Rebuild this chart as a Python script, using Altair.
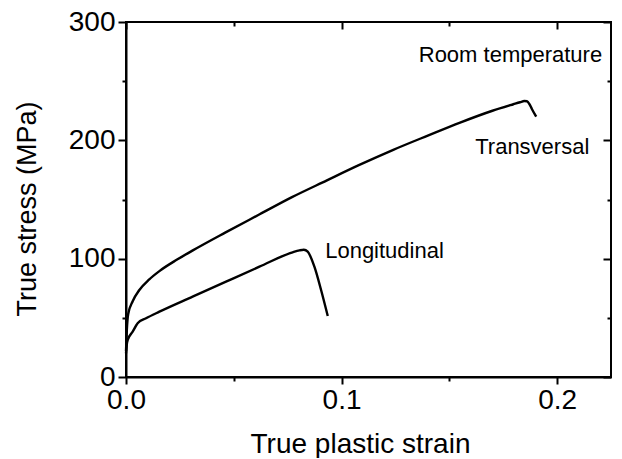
import altair as alt
import pandas as pd

# Transversal curve (true plastic strain, true stress MPa)
trans_strain = [0.0, 0.0004, 0.0010, 0.0031, 0.0062, 0.0108, 0.0155, 0.0235, 0.031, 0.046,
                0.062, 0.077, 0.093, 0.108, 0.124, 0.14, 0.155, 0.17, 0.1797, 0.1828,
                0.1848, 0.186, 0.1872, 0.1883, 0.1903]
trans_stress = [22, 40, 53, 64, 73.5, 82.5, 89.5, 99, 107, 122,
                137.5, 152, 166, 179, 192, 204, 215, 225, 230.5, 232.2,
                233.2, 233.0, 230.5, 226.5, 220]

# Longitudinal curve
long_strain = [0.0, 0.0004, 0.0008, 0.0031, 0.0054, 0.0093, 0.0155, 0.0309, 0.0464, 0.0619,
               0.0773, 0.0805, 0.0825, 0.0843, 0.0874, 0.0905, 0.0936]
long_stress = [20, 28, 31.3, 38.3, 45.4, 49.6, 55.2, 67.9, 80.6, 93.2,
               105.4, 107, 107.5, 105.9, 93.2, 73.5, 51.5]

# Annotations
left_text = ["Transversal", "Longitudinal"]
left_x = [0.162, 0.0924]
left_y = [188.5, 100.5]
right_text = ["Room temperature"]
right_x = [0.2209]
right_y = [266.2]

x_ticks = [0, 0.05, 0.1, 0.15, 0.2]
y_ticks = [0, 50, 100, 150, 200, 250, 300]

W, H = 485, 355
FONT = "Liberation Sans"

rows = []
for s, v in zip(trans_strain, trans_stress):
    rows.append({"series": "Transversal", "strain": s, "stress": v})
for s, v in zip(long_strain, long_stress):
    rows.append({"series": "Longitudinal", "strain": s, "stress": v})
df = pd.DataFrame(rows)

ann_l = pd.DataFrame({"text": left_text, "x": left_x, "y": left_y})
ann_r = pd.DataFrame({"text": right_text, "x": right_x, "y": right_y})

xmaj = "round(datum.value*100) % 10 == 0"
ymaj = "datum.value % 100 == 0"

xscale = alt.Scale(domain=[0, 0.225], nice=False, zero=False)
yscale = alt.Scale(domain=[0, 300], nice=False, zero=False)

lines = alt.Chart(df).mark_line(color="black", strokeWidth=2.4, interpolate="monotone").encode(
    x=alt.X("strain:Q", scale=xscale, axis=alt.Axis(
        orient="bottom", values=x_ticks, title="True plastic strain",
        labelExpr=xmaj + " ? format(datum.value, '.1f') : ''",
        labelFlush=False, labelOverlap=False,
        tickSize={"condition": {"test": xmaj, "value": 7}, "value": 4},
        tickWidth=2, domainWidth=2, labelPadding=2, labelFontSize=28, titleFontSize=28,
        titleX=234, titleY=75, titleBaseline="alphabetic", titleAlign="center",
        titleFontWeight="normal", grid=False)),
    y=alt.Y("stress:Q", scale=yscale, axis=alt.Axis(
        orient="left", values=y_ticks, title="True stress (MPa)",
        labelExpr=ymaj + " ? datum.label : ''",
        labelFlush=False, labelOverlap=False,
        tickSize={"condition": {"test": ymaj, "value": 8}, "value": 4},
        tickWidth=2, domainWidth=2, labelPadding=3, labelFontSize=28, titleFontSize=27,
        titleX=-91, titleY=186.5, titleAngle=270, titleBaseline="alphabetic",
        titleAlign="center", titleFontWeight="normal", grid=False)),
    detail="series:N",
)

texts_l = alt.Chart(ann_l).mark_text(fontSize=22, font=FONT, baseline="alphabetic",
                                     align="left", color="black").encode(
    x=alt.X("x:Q", scale=xscale, axis=alt.Axis(
        orient="bottom", offset=-H, values=x_ticks, title=None, labels=False, domain=False,
        tickSize={"condition": {"test": xmaj, "value": 7}, "value": 4}, tickWidth=2, grid=False)),
    y=alt.Y("y:Q", scale=yscale, axis=alt.Axis(
        orient="left", offset=-W, values=y_ticks, title=None, labels=False, domain=False,
        tickSize={"condition": {"test": ymaj, "value": 8}, "value": 4}, tickWidth=2, grid=False)),
    text="text:N",
)

texts_r = alt.Chart(ann_r).mark_text(fontSize=22, font=FONT, baseline="alphabetic",
                                     align="right", color="black").encode(
    x=alt.X("x:Q", scale=xscale, axis=None),
    y=alt.Y("y:Q", scale=yscale, axis=None),
    text="text:N",
)

chart = alt.layer(lines, texts_l, texts_r).resolve_axis(x="independent", y="independent").properties(
    width=W, height=H,
    autosize=alt.AutoSizeParams(type="none"),
    padding={"left": 118, "top": 14, "right": 3, "bottom": 81},
    background="white",
).configure_view(stroke="black", strokeWidth=2).configure_axis(
    domainColor="black", tickColor="black", labelColor="black", titleColor="black",
    labelFont=FONT, titleFont=FONT,
)

chart.save("out.html", embed_options={"renderer": "svg", "actions": False})
